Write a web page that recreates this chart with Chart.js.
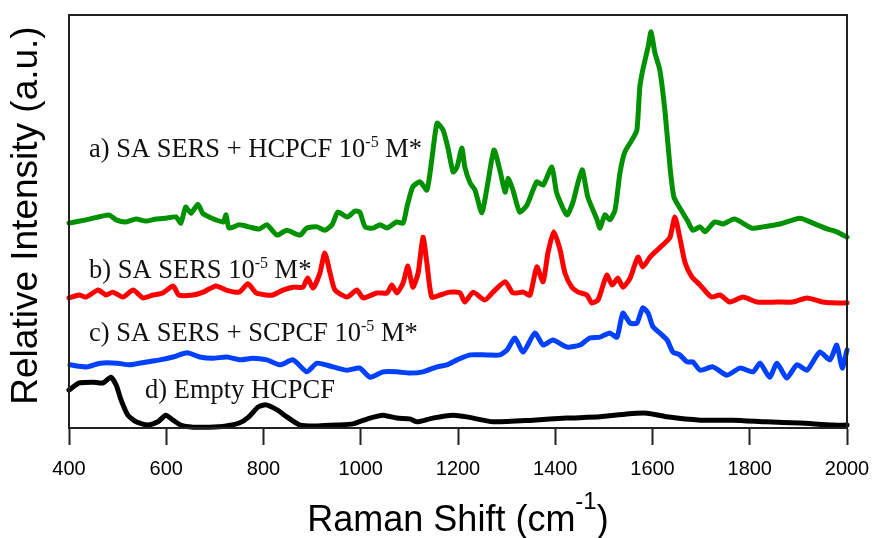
<!DOCTYPE html>
<html>
<head>
<meta charset="utf-8">
<script src="https://cdn.jsdelivr.net/npm/chart.js@4/dist/chart.umd.min.js"></script>
<style>
  html, body { margin: 0; padding: 0; background: #fff; }
  #wrap { width: 872px; height: 538px; }
</style>
</head>
<body>
<div id="wrap"><canvas id="ramanChart"></canvas></div>
<script>
// Raman shift (cm-1) and relative intensity (a.u., offset traces) for each spectrum
var shiftA = [400,435,482,497,517,538,558,579,599,620,630,640,651,665,675,688,702,717,723,729,750,770,791,807,828,848,875,889,910,926,941,953,972,988,998,1009,1025,1040,1054,1074,1087,1095,1107,1122,1136,1146,1157,1169,1179,1190,1198,1208,1214,1225,1235,1249,1260,1274,1286,1297,1303,1313,1327,1342,1362,1375,1393,1403,1424,1436,1455,1467,1486,1492,1502,1512,1523,1533,1543,1560,1568,1574,1580,1591,1597,1605,1615,1626,1636,1644,1656,1671,1683,1698,1708,1728,1745,1769,1804,1827,1862,1903,1930,1959,1979,2000];
var intensityA = [49.6,50.4,51.6,50.4,49.9,50.6,50.1,50.6,50.8,51.1,49.6,53.5,52.0,54.2,52.0,51.1,50.4,49.9,51.6,48.4,49.2,48.7,48.2,49.2,46.7,47.9,46.7,48.4,48.7,47.9,49.2,52.3,51.1,52.5,52.3,48.7,48.4,49.2,48.4,49.9,49.6,53.5,58.4,59.6,57.6,64.9,73.8,72.2,68.0,62.0,63.2,67.8,63.2,59.3,57.6,52.1,58.4,67.3,62.5,57.1,60.5,57.6,52.3,54.0,59.6,58.8,63.2,56.9,51.6,54.5,62.5,55.9,50.4,48.4,51.6,50.4,52.8,61.7,66.8,70.2,72.2,82.6,86.7,92.3,95.9,90.8,86.7,76.3,63.2,55.9,53.3,50.4,47.9,48.7,47.5,49.9,49.4,50.6,48.4,48.7,49.4,50.8,49.6,48.2,47.5,46.2];

var shiftB = [400,421,435,460,476,490,511,532,552,573,593,614,626,655,676,702,723,750,768,785,805,819,840,861,881,891,902,916,926,937,947,972,992,1005,1033,1054,1064,1074,1087,1097,1107,1118,1128,1136,1146,1163,1183,1204,1214,1231,1255,1272,1297,1313,1334,1348,1362,1375,1385,1397,1410,1420,1434,1447,1465,1475,1488,1506,1517,1529,1539,1554,1570,1580,1595,1605,1621,1636,1646,1656,1667,1681,1698,1712,1722,1739,1759,1786,1815,1856,1889,1918,1950,1971,2000];
var intensityB = [31.5,32.2,31.7,33.4,32.2,32.9,31.7,33.4,31.5,32.2,32.7,34.4,32.2,32.2,32.9,34.4,33.4,32.9,34.9,32.7,32.2,32.2,33.4,34.1,34.1,36.3,33.9,37.5,42.4,37.5,33.4,31.7,33.4,31.5,32.7,32.7,34.6,32.7,35.1,39.2,34.1,37.5,46.2,40.0,31.7,32.2,32.9,32.7,30.5,32.9,31.0,32.9,35.4,32.7,32.9,32.2,39.0,35.4,42.4,47.5,43.1,37.5,34.1,32.9,32.2,30.3,31.0,37.0,34.6,36.3,34.1,36.3,41.4,39.0,41.4,42.6,44.3,46.2,51.1,46.2,40.0,36.6,34.6,32.7,31.7,32.2,30.5,31.7,30.5,30.5,30.5,31.5,30.5,30.3,30.3];

var shiftC = [402,437,464,499,525,560,587,614,643,669,696,725,752,778,807,834,861,889,910,943,972,998,1019,1046,1074,1101,1128,1157,1177,1198,1225,1260,1286,1301,1317,1334,1358,1375,1395,1424,1451,1471,1492,1512,1527,1539,1554,1568,1580,1591,1601,1615,1630,1642,1656,1671,1683,1698,1724,1753,1780,1807,1821,1841,1856,1876,1897,1918,1944,1965,1979,1990,2000];
var intensityC = [15.3,14.8,15.7,15.7,15.3,16.0,16.5,17.2,18.2,17.2,16.9,17.2,16.5,16.9,16.5,15.3,16.5,13.6,15.7,14.8,14.0,14.5,12.3,13.6,13.6,13.3,13.6,14.8,15.3,16.5,17.7,17.7,17.7,18.9,21.8,18.4,23.0,20.1,21.3,19.6,20.1,21.8,22.0,23.0,22.0,27.8,25.4,25.4,29.1,27.8,24.5,23.0,21.3,18.4,17.7,16.0,16.0,14.0,14.8,12.8,14.5,13.6,15.7,12.3,15.7,12.1,15.3,14.0,18.4,16.5,20.1,14.5,18.9];

var shiftD = [400,421,449,470,486,497,507,521,538,562,583,599,614,630,655,688,723,750,770,789,805,828,848,875,910,951,984,1019,1046,1074,1101,1116,1148,1190,1218,1272,1354,1424,1492,1547,1589,1630,1698,1765,1835,1903,1971,2000];
var intensityD = [9.2,10.9,11.1,10.9,12.3,10.4,6.8,3.1,1.5,0.7,1.5,3.1,1.9,0.7,0.2,0.2,0.5,1.2,2.7,5.1,5.6,4.4,2.7,0.7,0.5,0.7,1.0,2.4,3.1,2.4,2.2,1.5,2.4,3.1,2.7,1.5,1.9,2.4,2.7,3.4,3.6,2.7,1.9,1.9,1.5,1.2,0.7,0.7];

var xTicks = [400,600,800,1000,1200,1400,1600,1800,2000];

// trace captions: text before the superscript, the superscript, text after it
var captions = [
  { pre: 'a) SA SERS + HCPCF 10', sup: '-5', post: ' M*', x: 89, y: 157 },
  { pre: 'b) SA SERS 10', sup: '-5', post: ' M*', x: 89, y: 278 },
  { pre: 'c) SA SERS + SCPCF 10', sup: '-5', post: ' M*', x: 89, y: 341 },
  { pre: 'd) Empty HCPCF', sup: '', post: '', x: 145, y: 398 }
];

var serif = '"Liberation Serif", "Times New Roman", serif';
var sans = '"Liberation Sans", Arial, sans-serif';

function toPoints(xs, ys) {
  return xs.map(function(x, i){ return { x: x, y: ys[i] }; });
}

function series(label, xs, ys, color) {
  return {
    label: label,
    data: toPoints(xs, ys),
    borderColor: color,
    backgroundColor: color,
    borderWidth: 5,
    pointRadius: 0,
    tension: 0.2,
    borderJoinStyle: 'round',
    borderCapStyle: 'round',
    clip: false
  };
}

// box around the plot, captions and both axis titles
var decorations = {
  id: 'decorations',
  afterDraw: function(chart) {
    var ctx = chart.ctx, a = chart.chartArea;
    ctx.save();
    ctx.strokeStyle = '#222';
    ctx.lineWidth = 2;
    ctx.strokeRect(a.left, a.top, a.right - a.left, a.bottom - a.top);

    ctx.fillStyle = '#111';
    ctx.textBaseline = 'alphabetic';
    captions.forEach(function(c){
      var x = c.x;
      ctx.font = '26.5px ' + serif;
      ctx.fillText(c.pre, x, c.y);
      x += ctx.measureText(c.pre).width;
      if (c.sup) {
        ctx.font = '16px ' + serif;
        ctx.fillText(c.sup, x, c.y - 10);
        x += ctx.measureText(c.sup).width;
        ctx.font = '26.5px ' + serif;
        ctx.fillText(c.post, x, c.y);
      }
    });

    // x title: Raman Shift (cm^-1)
    var big = '36px ' + sans;
    var small = '24px ' + sans;
    ctx.fillStyle = '#000';
    ctx.font = big;
    var t1 = 'Raman Shift (cm', t3 = ')';
    var w1 = ctx.measureText(t1).width, w3 = ctx.measureText(t3).width;
    ctx.font = small;
    var w2 = ctx.measureText('-1').width;
    var x0 = 458 - (w1 + w2 + w3) / 2, yb = 531;
    ctx.font = big;
    ctx.fillText(t1, x0, yb);
    ctx.font = small;
    ctx.fillText('-1', x0 + w1, yb - 22);
    ctx.font = big;
    ctx.fillText(t3, x0 + w1 + w2, yb);

    // y title
    ctx.translate(37, (a.top + a.bottom) / 2 - 6);
    ctx.rotate(-Math.PI / 2);
    ctx.textAlign = 'center';
    ctx.font = '37px ' + sans;
    ctx.fillText('Relative Intensity (a.u.)', 0, 0);
    ctx.restore();
  }
};

var ctx = document.getElementById('ramanChart').getContext('2d');

var ramanChart = new Chart(ctx, {
  type: 'line',
  data: {
    datasets: [
      series('a) SA SERS + HCPCF', shiftA, intensityA, '#009100'),
      series('b) SA SERS', shiftB, intensityB, '#ff0000'),
      series('c) SA SERS + SCPCF', shiftC, intensityC, '#0040ff'),
      series('d) Empty HCPCF', shiftD, intensityD, '#000000')
    ]
  },
  options: {
    responsive: true,
    maintainAspectRatio: false,
    animation: false,
    layout: { padding: { top: 15, right: 25, left: 0, bottom: 0 } },
    plugins: {
      legend: { display: false },
      tooltip: { enabled: false }
    },
    scales: {
      x: {
        type: 'linear',
        min: 400,
        max: 2000,
        afterBuildTicks: function(scale){
          scale.ticks = xTicks.map(function(v){ return { value: v }; });
        },
        afterFit: function(scale){
          scale.height = 110;
          scale.paddingLeft = 0;
          scale.paddingRight = 0;
        },
        grid: {
          drawOnChartArea: false,
          drawTicks: true,
          tickLength: 17,
          tickWidth: 2,
          tickColor: '#222'
        },
        border: { display: true, color: '#222', width: 2 },
        ticks: {
          color: '#000',
          padding: 12,
          maxRotation: 0,
          callback: function(v){ return String(v); },
          font: { family: sans, size: 20 }
        }
      },
      y: {
        type: 'linear',
        min: 0,
        max: 100,
        afterFit: function(scale){
          scale.width = 69;
          scale.paddingTop = 0;
          scale.paddingBottom = 0;
        },
        grid: { display: false },
        border: { display: true, color: '#222', width: 2 },
        ticks: { display: false }
      }
    }
  },
  plugins: [decorations]
});
</script>
</body>
</html>
